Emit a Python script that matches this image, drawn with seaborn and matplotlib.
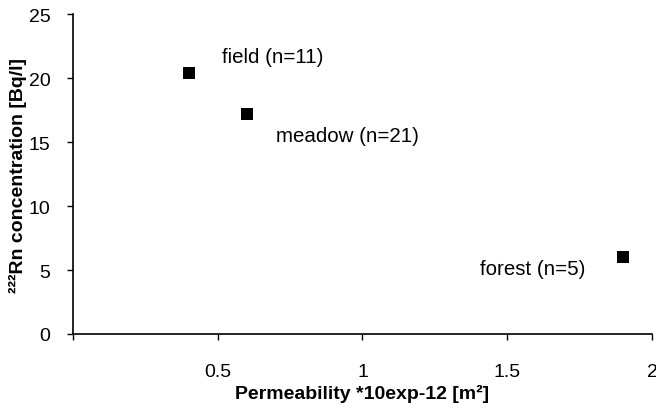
import matplotlib
matplotlib.use("Agg")
import matplotlib.pyplot as plt
import seaborn as sns
import pandas as pd

# data
sites = ["field (n=11)", "meadow (n=21)", "forest (n=5)"]
permeability = [0.4, 0.6, 1.9]
radon = [20.4, 17.2, 6.0]
label_x = [0.515, 0.70, 1.405]
label_y = [21.7, 15.5, 5.1]
xticks = [0, 0.5, 1, 1.5, 2]
xticklabels = ["", "0.5", "1", "1.5", "2"]
yticks = [0, 5, 10, 15, 20, 25]

sns.set_style("ticks")
plt.rcParams["font.family"] = ["Liberation Sans", "DejaVu Sans"]
plt.rcParams["text.color"] = "black"
plt.rcParams["axes.labelcolor"] = "black"

df = pd.DataFrame({"site": sites, "perm": permeability, "rn": radon})

fig = plt.figure(figsize=(6.56, 4.10), dpi=100)
ax = fig.add_axes([0.111, 0.183, 0.883, 0.780])
sns.scatterplot(data=df, x="perm", y="rn", marker="s", s=85, color="black",
                edgecolor="black", linewidth=0, ax=ax, legend=False)

for t, lx, ly in zip(sites, label_x, label_y):
    ax.text(lx, ly, t, fontsize=14.8, ha="left", va="center", color="black")

ax.set_xlim(0, 2)
ax.set_ylim(0, 25)
ax.set_xticks(xticks)
ax.set_xticklabels(xticklabels)
ax.set_yticks(yticks)
ax.tick_params(axis="both", direction="out", length=4, width=1, labelsize=14, colors="black")
ax.tick_params(axis="x", pad=17)
ax.tick_params(axis="y", pad=12)
for s in ["top", "right"]:
    ax.spines[s].set_visible(False)
for s in ["left", "bottom"]:
    ax.spines[s].set_linewidth(1.2)
    ax.spines[s].set_color("black")

ax.set_xlabel("Permeability *10exp-12 [m²]", fontsize=14, fontweight="bold", labelpad=3, color="black")
ax.set_ylabel("²²²Rn concentration [Bq/l]", fontsize=14, fontweight="bold", labelpad=1, color="black")

fig.savefig("out.png", dpi=100)
